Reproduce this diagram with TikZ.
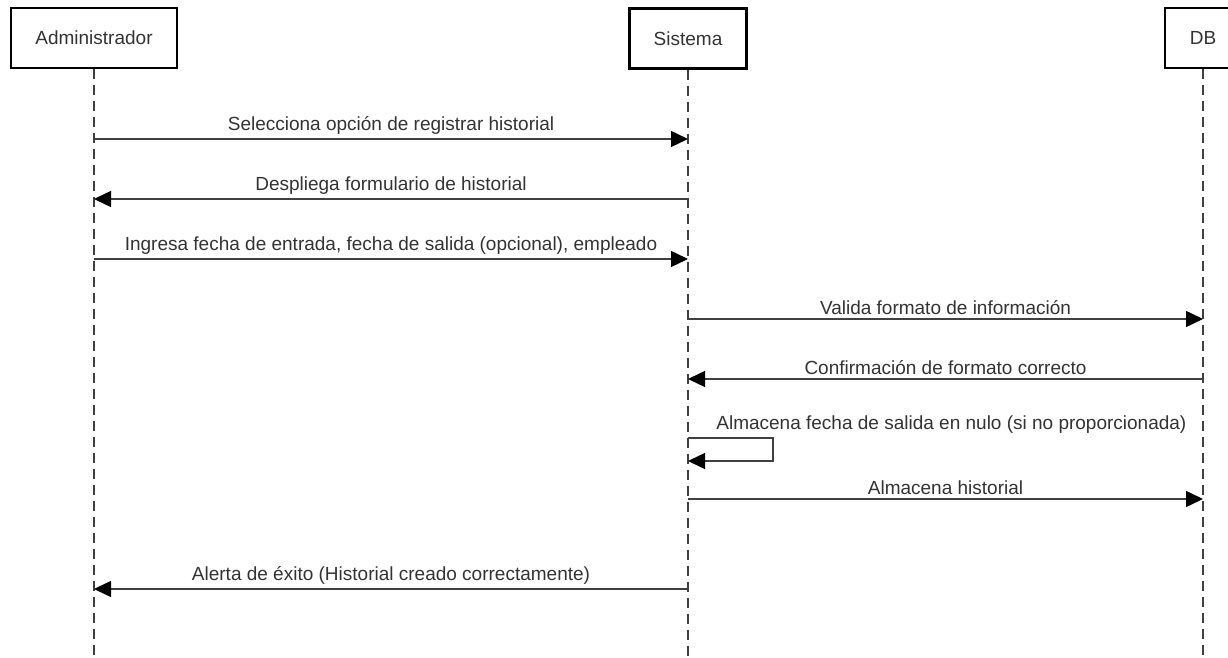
\documentclass[tikz,border=0pt]{standalone}
\usepackage{fontspec}
\setmainfont{Liberation Sans}
\usetikzlibrary{
	arrows.meta,
	positioning,
	calc
}

\begin{document}
\begin{tikzpicture}[
					x=0.5pt, y=-0.5pt,
					actor/.style={
							rectangle,
							draw=black,
							line width=1.3pt,
							minimum height=30pt,
							inner sep=3pt,
							text=black!80,
							font=\fontsize{9.5}{11}\selectfont
						},
					lifeline/.style={
							draw=black!75,
							line width=0.75pt,
							dash pattern=on 5pt off 3pt
						},
					msg/.style={
							draw=black!75,
							line width=0.75pt,
							-{Triangle[length=8.5pt,width=8pt,fill=black,color=black]}
						},
					msg_label/.style={
							font=\fontsize{9.5}{11}\selectfont,
							text=black!80,
							midway,
							above=-1.5pt
						}
				]
				\useasboundingbox (0,0) rectangle (1228,658);

				% participants
				\node[actor, minimum width=83pt] (adm) at (94, 38) {Administrador};
				\node[actor, minimum width=58.5pt] (sis) at (688, 38.5) {Sistema};
				\node[actor, minimum width=38pt] (db) at (1203, 38) {DB};

				\coordinate (bot) at (0, 660);
				\draw[lifeline] (adm.south) -- (adm |- bot);
				\draw[lifeline] (sis.south) -- (sis |- bot);
				\draw[lifeline] (db.south) -- (db |- bot);

				% message rows
				\coordinate (r1) at (0, 139);
				\coordinate (r2) at (0, 199);
				\coordinate (r3) at (0, 259);
				\coordinate (r4) at (0, 319);
				\coordinate (r5) at (0, 379);
				\coordinate (r6) at (0, 438);
				\coordinate (r6b) at (0, 461);
				\coordinate (r7) at (0, 499);
				\coordinate (r8) at (0, 589);

				\draw[msg] (adm |- r1) -- (sis |- r1)
				node[msg_label] {Selecciona opción de registrar historial};
				\draw[msg] (sis |- r2) -- (adm |- r2)
				node[msg_label] {Despliega formulario de historial};
				\draw[msg] (adm |- r3) -- (sis |- r3)
				node[msg_label] {Ingresa fecha de entrada, fecha de salida (opcional), empleado};
				\draw[msg] (sis |- r4) -- (db |- r4)
				node[msg_label] {Valida formato de información};
				\draw[msg] (db |- r5) -- (sis |- r5)
				node[msg_label] {Confirmación de formato correcto};

				% self call
				\coordinate (loop) at (773, 0);
				\draw[msg] (sis |- r6) -- (loop |- r6) -- (loop |- r6b) -- (sis |- r6b);
				\node[font=\fontsize{9.5}{11}\selectfont, text=black!80, anchor=south west, inner sep=0pt]
				(selflbl) at ($(sis |- r6) + (28, -4)$) {Almacena fecha de salida en nulo (si no proporcionada)};

				\draw[msg] (sis |- r7) -- (db |- r7)
				node[msg_label] {Almacena historial};
				\draw[msg] (sis |- r8) -- (adm |- r8)
				node[msg_label] {Alerta de éxito (Historial creado correctamente)};
		\end{tikzpicture}
\end{document}
